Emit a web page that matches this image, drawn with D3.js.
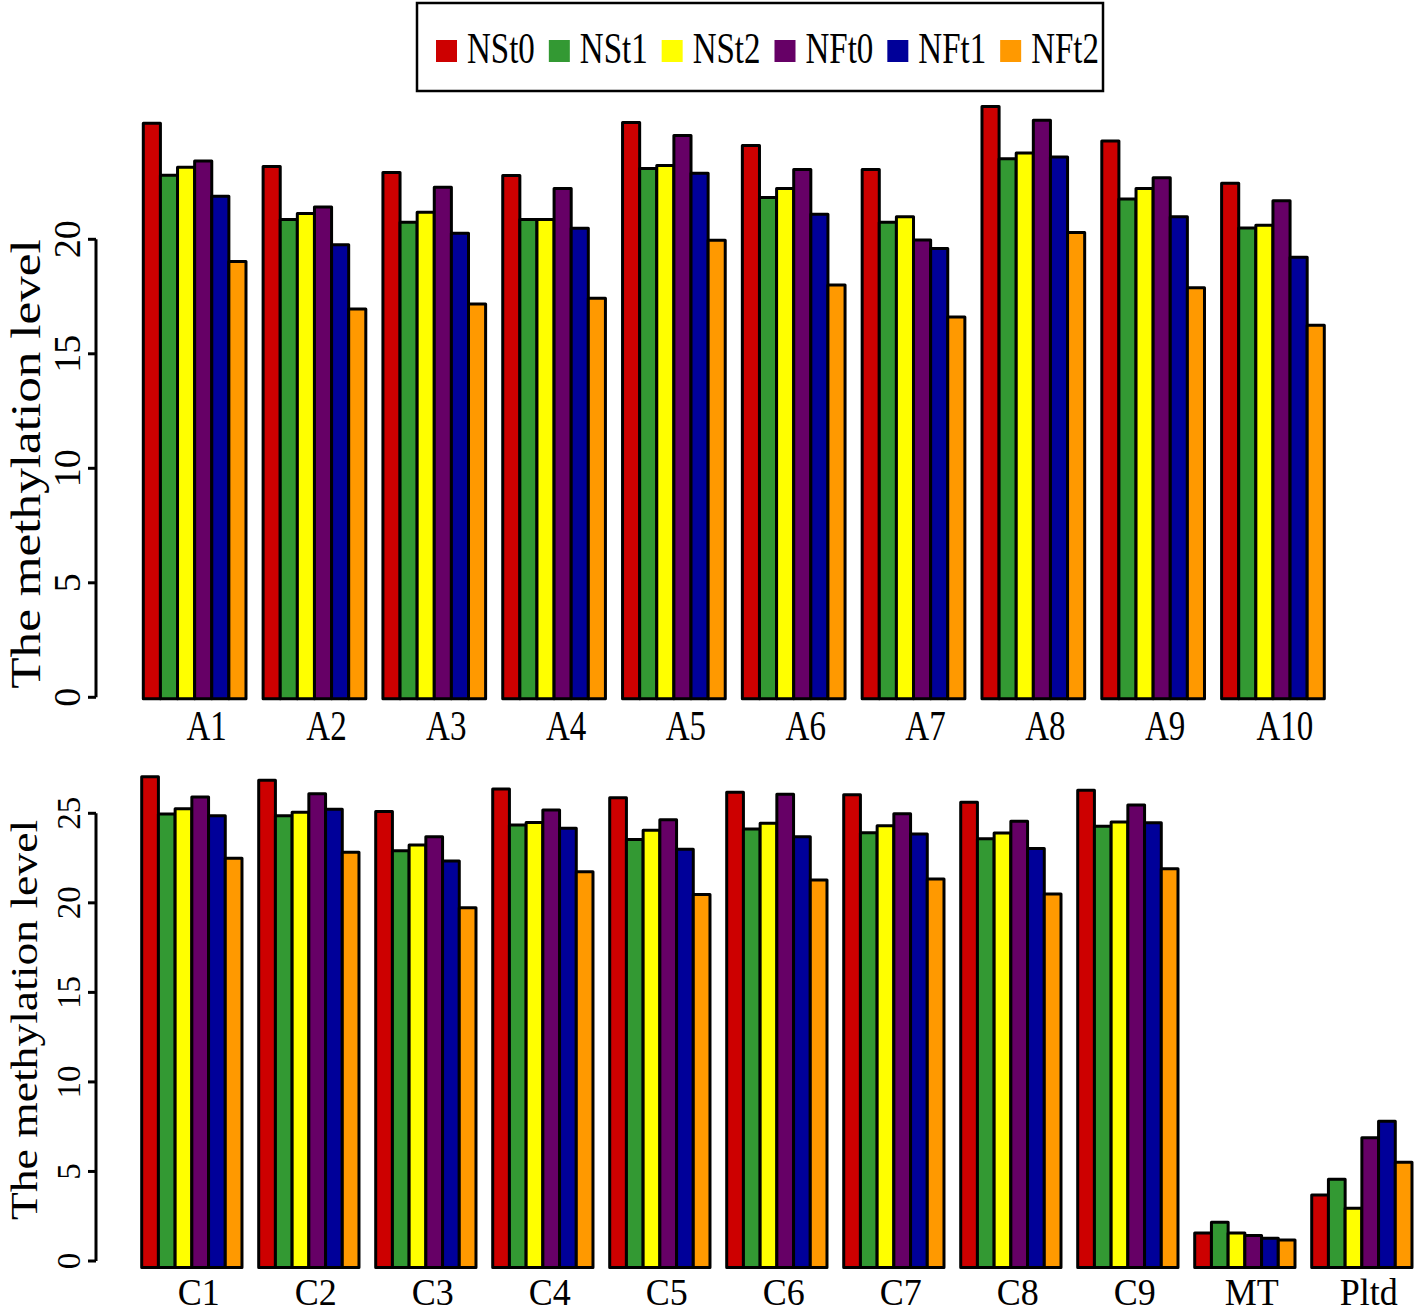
<!DOCTYPE html>
<html><head><meta charset="utf-8">
<script src="https://cdn.jsdelivr.net/npm/d3@7"></script>
<style>body{margin:0;background:#fff}svg{display:block}text{font-family:"Liberation Serif","Times New Roman",serif;fill:#000}</style>
</head><body>
<svg id="chart" width="1416" height="1314"></svg>
<script>
// ---------- DATA ----------
const series = ["NSt0","NSt1","NSt2","NFt0","NFt1","NFt2"];
const seriesColors = ["#CD0000","#339933","#FFFF00","#660066","#000099","#FF9900"];

const topCategories = ["A1","A2","A3","A4","A5","A6","A7","A8","A9","A10"];
const topNSt0 = [25.07,23.18,22.92,22.79,25.10,24.10,23.05,25.80,24.29,22.45];
const topNSt1 = [22.80,20.86,20.74,20.87,23.09,21.83,20.74,23.52,21.76,20.49];
const topNSt2 = [23.15,21.13,21.18,20.87,23.22,22.22,20.99,23.77,22.22,20.61];
const topNFt0 = [23.42,21.41,22.27,22.22,24.53,23.05,19.97,25.20,22.69,21.68];
const topNFt1 = [21.88,19.76,20.26,20.48,22.88,21.09,19.60,23.59,20.98,19.22];
const topNFt2 = [19.03,16.96,17.17,17.43,19.96,18.00,16.61,20.30,17.88,16.25];
const topTicks = [0,5,10,15,20];

const botCategories = ["C1","C2","C3","C4","C5","C6","C7","C8","C9","MT","Pltd"];
const botNSt0 = [27.04,26.84,25.10,26.35,25.87,26.17,26.04,25.62,26.29,1.57,3.68];
const botNSt1 = [24.96,24.86,22.91,24.34,23.54,24.12,23.92,23.58,24.28,2.16,4.57];
const botNSt2 = [25.26,25.06,23.23,24.49,24.05,24.44,24.31,23.90,24.51,1.57,2.94];
const botNFt0 = [25.91,26.09,23.69,25.18,24.64,26.07,24.98,24.56,25.46,1.43,6.88];
const botNFt1 = [24.86,25.22,22.33,24.16,22.99,23.69,23.84,23.04,24.47,1.27,7.80];
const botNFt2 = [22.49,22.82,19.73,21.74,20.47,21.27,21.33,20.50,21.90,1.17,5.52];
const botTicks = [0,5,10,15,20,25];

const yTitle = "The methylation level";

// ---------- DRAW ----------
const svg = d3.select("#chart");

function panel(cfg){
  const {cats, vals, ticks, yMax, y0px, yTopPx, x0, x1, baseOff,
         tickFont, titleFont, titleStretch, titleX, titleY, labelFont, labelStretch, labelY, labelOff} = cfg;
  const y = d3.scaleLinear().domain([0, yMax]).range([y0px, yTopPx]);
  const gx = d3.scaleBand().domain(cats).range([x0, x1]).paddingInner(1/7).paddingOuter(0);
  const sx = d3.scaleBand().domain(series).range([0, gx.bandwidth()]).padding(0);
  const g = svg.append("g");
  const rows = cats.map((c,i)=>({cat:c, values: series.map((s,j)=>({s, v: vals[j][i], j}))}));
  const grp = g.selectAll("g.grp").data(rows).join("g")
     .attr("transform", d=>`translate(${gx(d.cat)},0)`);
  grp.selectAll("rect").data(d=>d.values).join("rect")
     .attr("x", d=>sx(d.s)).attr("width", sx.bandwidth())
     .attr("y", d=>y(d.v)).attr("height", d=>y(0)+baseOff - y(d.v))
     .attr("fill", d=>seriesColors[d.j]).attr("stroke","#000").attr("stroke-width",3)
     .attr("stroke-linejoin","round");
  // y axis
  const ax = g.append("g").attr("transform","translate(96,0)");
  ax.append("line").attr("x1",0).attr("x2",0).attr("y1",y(0)).attr("y2",y(ticks[ticks.length-1]))
    .attr("stroke","#000").attr("stroke-width",3);
  ax.selectAll("line.t").data(ticks).join("line").attr("class","t")
    .attr("x1",0).attr("x2",-8).attr("y1",d=>y(d)).attr("y2",d=>y(d))
    .attr("stroke","#000").attr("stroke-width",3);
  ax.selectAll("text").data(ticks).join("text")
    .attr("transform", d=>`translate(-16,${y(d)}) rotate(-90)`)
    .attr("text-anchor","middle").style("font-size", tickFont+"px").text(d=>d);
  // y title
  g.append("text")
    .attr("transform", `translate(${titleX},${titleY}) rotate(-90) scale(${titleStretch},1)`)
    .attr("text-anchor","middle").style("font-size", titleFont+"px").text(yTitle);
  // category labels
  g.selectAll("text.cat").data(cats).join("text").attr("class","cat")
    .attr("transform", d=>`translate(${gx(d)+gx.bandwidth()/2+labelOff},${labelY}) scale(1,${labelStretch})`)
    .attr("text-anchor","middle").style("font-size", labelFont+"px").text(d=>d);
}

panel({cats: topCategories, vals:[topNSt0,topNSt1,topNSt2,topNFt0,topNFt1,topNFt2],
  ticks: topTicks, yMax: 20, y0px: 697.3, yTopPx: 239.3, x0: 143.3, x1: 1324.3, baseOff: 1.5,
  tickFont: 38, titleFont: 42, titleStretch: 1.22, titleX: 40, titleY: 464,
  labelFont: 33, labelStretch: 1.25, labelY: 740, labelOff: 12});

panel({cats: botCategories, vals:[botNSt0,botNSt1,botNSt2,botNFt0,botNFt1,botNFt2],
  ticks: botTicks, yMax: 25, y0px: 1261, yTopPx: 813.3, x0: 141.7, x1: 1412, baseOff: 6.5,
  tickFont: 33, titleFont: 38, titleStretch: 1.2, titleX: 37, titleY: 1020,
  labelFont: 36, labelStretch: 1.05, labelY: 1305, labelOff: 7});

// legend
const lg = svg.append("g");
lg.append("rect").attr("x",417).attr("y",3).attr("width",686).attr("height",88)
  .attr("fill","#fff").attr("stroke","#000").attr("stroke-width",2.5);
let lx = 436;
series.forEach((s,i)=>{
  lg.append("rect").attr("x",lx).attr("y",40).attr("width",21).attr("height",22).attr("fill",seriesColors[i]);
  const t = lg.append("text").attr("transform",`translate(${lx+31},63) scale(1,1.36)`)
    .style("font-size","33px").text(s);
  lx = lx + 31 + t.node().getComputedTextLength() + 14;
});
</script>
</body></html>
